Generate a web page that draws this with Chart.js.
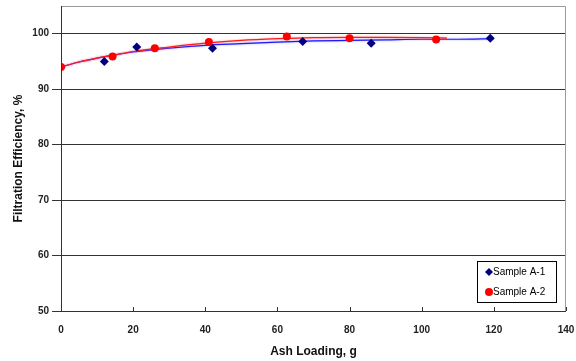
<!DOCTYPE html>
<html>
<head>
<meta charset="utf-8">
<script src="https://cdn.jsdelivr.net/npm/chart.js@4/dist/chart.umd.min.js"></script>
<style>
  html, body { margin: 0; padding: 0; background: #fff; }
  #wrap { width: 576px; height: 361px; position: relative; }
</style>
</head>
<body>
<div id="wrap"><canvas id="c" width="576" height="361"></canvas></div>
<script>
// Measured points
const sampleA1X = [0, 12, 21, 42, 67, 86, 119];
const sampleA1Y = [94.0, 95.0, 97.6, 97.4, 98.6, 98.3, 99.2];
const sampleA2X = [0, 14.3, 26, 41, 62.6, 80, 104];
const sampleA2Y = [94.0, 95.9, 97.4, 98.5, 99.5, 99.2, 98.95];

// Fitted trend curves
const trendA1X = [0, 5, 10, 15, 20, 30, 40, 50, 60, 70, 80, 90, 100, 110, 120];
const trendA1Y = [94.0, 94.9, 95.6, 96.2, 96.7, 97.4, 97.9, 98.2, 98.5, 98.7, 98.8, 98.9, 99.0, 99.0, 99.1];
const trendA2X = [0, 5, 10, 15, 20, 30, 40, 50, 60, 70, 80, 90, 100, 107];
const trendA2Y = [94.0, 94.9, 95.6, 96.2, 96.8, 97.6, 98.3, 98.8, 99.1, 99.3, 99.35, 99.35, 99.3, 99.2];

// Axis ticks
const xTicks = [0, 20, 40, 60, 80, 100, 120, 140];
const yTicks = [50, 60, 70, 80, 90, 100];

const seriesNames = ['Sample A-1', 'Sample A-2'];

const pts = (xs, ys) => xs.map((x, i) => ({ x, y: ys[i] }));

// Soft glow under the trend curves
const glowPlugin = {
  id: 'glow',
  beforeDatasetDraw(chart, args) {
    const ds = chart.data.datasets[args.index];
    if (!ds.isTrend) return;
    const ctx = chart.ctx;
    ctx.save();
    ctx.shadowColor = ds.glowColor;
    ctx.shadowBlur = 2;
  },
  afterDatasetDraw(chart, args) {
    const ds = chart.data.datasets[args.index];
    if (!ds.isTrend) return;
    chart.ctx.restore();
  }
};

// Frame, inward x tick marks and boxed legend inside the plot
const framePlugin = {
  id: 'frame',
  afterDraw(chart) {
    const { ctx, chartArea: a, scales } = chart;
    ctx.save();
    // light top/right border
    ctx.strokeStyle = '#9a9a9a';
    ctx.lineWidth = 1;
    ctx.beginPath();
    ctx.moveTo(a.left, a.top + 0.5);
    ctx.lineTo(a.right - 0.5, a.top + 0.5);
    ctx.lineTo(a.right - 0.5, a.bottom);
    ctx.stroke();
    // axes
    ctx.strokeStyle = '#333';
    ctx.beginPath();
    ctx.moveTo(a.left + 0.5, a.top);
    ctx.lineTo(a.left + 0.5, a.bottom + 0.5);
    ctx.lineTo(a.right, a.bottom + 0.5);
    ctx.stroke();
    // inward tick marks on x axis
    ctx.beginPath();
    xTicks.forEach(v => {
      const px = Math.round(scales.x.getPixelForValue(v)) + 0.5;
      ctx.moveTo(px, a.bottom);
      ctx.lineTo(px, a.bottom - 4);
    });
    ctx.stroke();

    // legend box
    const bx = 477, by = 261, bw = 79, bh = 41;
    ctx.fillStyle = '#fff';
    ctx.fillRect(bx, by, bw, bh);
    ctx.strokeStyle = '#000';
    ctx.strokeRect(bx + 0.5, by + 0.5, bw, bh);
    ctx.font = '10px "Liberation Sans", Arial, sans-serif';
    ctx.textBaseline = 'middle';
    ctx.textAlign = 'left';
    const r1y = by + 11, r2y = by + 31, mx = bx + 12;
    ctx.fillStyle = '#000080';
    ctx.beginPath();
    ctx.moveTo(mx, r1y - 4); ctx.lineTo(mx + 4, r1y); ctx.lineTo(mx, r1y + 4); ctx.lineTo(mx - 4, r1y);
    ctx.closePath(); ctx.fill();
    ctx.fillStyle = '#ff0000';
    ctx.beginPath(); ctx.arc(mx, r2y, 4, 0, Math.PI * 2); ctx.fill();
    ctx.fillStyle = '#000';
    ctx.fillText(seriesNames[0], mx + 4, r1y);
    ctx.fillText(seriesNames[1], mx + 4, r2y);
    ctx.restore();
  }
};

new Chart(document.getElementById('c'), {
  type: 'scatter',
  data: {
    datasets: [
      {
        label: seriesNames[1],
        data: pts(sampleA2X, sampleA2Y),
        backgroundColor: '#ff0000', borderColor: '#ff0000',
        pointStyle: 'circle', pointRadius: 4, pointHoverRadius: 4, borderWidth: 0,
        order: 0
      },
      {
        label: seriesNames[0],
        data: pts(sampleA1X, sampleA1Y),
        backgroundColor: '#000080', borderColor: '#000080',
        pointStyle: 'rectRot', pointRadius: 4.5, pointHoverRadius: 4.5, borderWidth: 0,
        order: 1
      },
      {
        label: 'trend A-2',
        isTrend: true, glowColor: 'rgba(255,110,110,0.7)',
        data: pts(trendA2X, trendA2Y),
        showLine: true, borderColor: '#ff1a1a', borderWidth: 1.2,
        pointRadius: 0, cubicInterpolationMode: 'monotone', fill: false,
        order: 2
      },
      {
        label: 'trend A-1',
        isTrend: true, glowColor: 'rgba(110,110,255,0.7)',
        data: pts(trendA1X, trendA1Y),
        showLine: true, borderColor: '#1a1aff', borderWidth: 1.2,
        pointRadius: 0, cubicInterpolationMode: 'monotone', fill: false,
        order: 3
      }
    ]
  },
  options: {
    responsive: false,
    animation: false,
    layout: { padding: { top: 6, right: 10, left: 0, bottom: 0 } },
    plugins: { legend: { display: false }, tooltip: { enabled: false } },
    scales: {
      x: {
        type: 'linear', min: 0, max: 140,
        afterBuildTicks: s => { s.ticks = xTicks.map(v => ({ value: v })); },
        afterFit: s => { s.height = 50; s.paddingLeft = 0; s.paddingRight = 0; },
        grid: { display: false, drawTicks: false },
        border: { display: false },
        ticks: {
          padding: 13, color: '#222', maxRotation: 0,
          font: { family: '"Liberation Sans", Arial, sans-serif', size: 10, weight: 'bold' }
        },
        title: {
          display: true, text: 'Ash Loading, g', color: '#111',
          font: { family: '"Liberation Sans", Arial, sans-serif', size: 12, weight: 'bold' },
          padding: { top: 0, bottom: 2 }
        }
      },
      y: {
        type: 'linear', min: 50, max: 105,
        afterBuildTicks: s => { s.ticks = yTicks.map(v => ({ value: v })); },
        afterFit: s => { s.width = 61; s.paddingTop = 0; s.paddingBottom = 0; },
        grid: { color: '#333', lineWidth: 1, tickLength: 9, drawTicks: true },
        border: { display: false },
        ticks: {
          padding: 3, color: '#222',
          font: { family: '"Liberation Sans", Arial, sans-serif', size: 10, weight: 'bold' }
        },
        title: {
          display: true, text: 'Filtration Efficiency, %', color: '#111',
          font: { family: '"Liberation Sans", Arial, sans-serif', size: 12, weight: 'bold' },
          padding: { top: 11, bottom: 0 }
        }
      }
    }
  },
  plugins: [glowPlugin, framePlugin]
});
</script>
</body>
</html>
